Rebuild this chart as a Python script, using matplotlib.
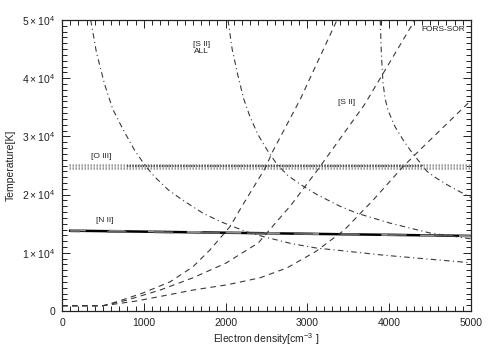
import matplotlib
matplotlib.use("Agg")
import matplotlib.pyplot as plt
from matplotlib.ticker import MultipleLocator, FixedLocator

plt.rcParams['font.family'] = ['Liberation Sans', 'DejaVu Sans']
plt.rcParams['mathtext.default'] = 'regular'

# ---- data (electron density [cm^-3], temperature [1e4 K]) ----
# [S II] ALL dash-dot curves
sall1_x = [351, 420, 520, 620, 746, 880, 1015, 1137, 1300, 1480, 1724, 1931, 2054, 2262, 2457, 2800, 3117, 3398, 3924, 4988]
sall1_y = [5.0, 4.45, 3.90, 3.47, 3.12, 2.78, 2.50, 2.30, 2.08, 1.90, 1.68, 1.54, 1.47, 1.36, 1.28, 1.16, 1.08, 1.04, 0.96, 0.83]
sall2_x = [2030, 2080, 2150, 2220, 2300, 2400, 2506, 2628, 2760, 2910, 3117, 3398, 3606, 4010, 4499, 5000]
sall2_y = [5.0, 4.5, 4.05, 3.65, 3.33, 3.02, 2.77, 2.52, 2.33, 2.18, 2.00, 1.80, 1.68, 1.51, 1.34, 1.24]
sall3_x = [3890, 3905, 3924, 3950, 3985, 4070, 4170, 4254, 4377, 4462, 4580, 4707, 4850, 5000]
sall3_y = [5.0, 4.4, 3.92, 3.65, 3.45, 3.17, 2.94, 2.77, 2.55, 2.40, 2.28, 2.17, 2.06, 1.95]
# [S II] dashed curves
sii1_x = [0, 500, 673, 990, 1320, 1601, 1809, 2054, 2200, 2482, 2579, 2910, 3362]
sii1_y = [0.09, 0.09, 0.16, 0.31, 0.50, 0.76, 1.05, 1.45, 1.80, 2.45, 2.75, 3.63, 5.0]
sii2_x = [0, 500, 800, 1200, 1600, 2000, 2400, 2800, 3154, 3700, 4315]
sii2_y = [0.09, 0.09, 0.19, 0.36, 0.57, 0.82, 1.17, 1.82, 2.48, 3.55, 5.0]
sii3_x = [0, 500, 900, 1200, 1601, 2017, 2420, 2750, 3100, 3450, 3800, 4169, 4377, 5000]
sii3_y = [0.09, 0.09, 0.17, 0.25, 0.36, 0.45, 0.57, 0.74, 1.02, 1.39, 1.90, 2.48, 2.77, 3.62]
# [N II] horizontal lines
nii_x = [100, 5000]
nii_y = [1.38, 1.29]
nii2_y = [1.39, 1.285]
nii3_y = [1.37, 1.295]
# [O III] band
oiii_x = [90, 5000]
oiii_top = [2.515, 2.515]
oiii_bot = [2.455, 2.455]
oiii_mid_x = [790, 4400]
oiii_mid = [2.485, 2.485]

xticks = [0, 1000, 2000, 3000, 4000, 5000]
yticks = [0, 1, 2, 3, 4, 5]
ytick_labels = ['0', r'$1\times10^{4}$', r'$2\times10^{4}$', r'$3\times10^{4}$',
                r'$4\times10^{4}$', r'$5\times10^{4}$']

fig = plt.figure(figsize=(4.91, 3.51), dpi=100)
ax = fig.add_axes([62/491, 1-311/351, (471-62)/491, (311-20)/351])

dc = '#3a3a3a'
# O III band
ax.plot(oiii_x, oiii_top, color='#9a9a9a', lw=1.8, ls=(0, (0.6, 0.6)))
ax.plot(oiii_x, oiii_bot, color='#9a9a9a', lw=1.8, ls=(0, (0.6, 0.6)))
ax.plot(oiii_mid_x, oiii_mid, color='#555555', lw=1.6, ls=(0, (0.6, 0.6)))

# N II
ax.plot(nii_x, nii_y, color='black', lw=1.8)
ax.plot(nii_x, nii2_y, color='#909090', lw=1.4, ls=(0, (8, 12)))
ax.plot(nii_x, nii3_y, color='#606060', lw=1.4, ls=(5, (10, 14)))

# dash-dot [S II] ALL
for xs, ys in [(sall1_x, sall1_y), (sall2_x, sall2_y), (sall3_x, sall3_y)]:
    ax.plot(xs, ys, color=dc, lw=0.8, ls=(0, (5, 3, 1, 3)))
# dashed [S II]
for xs, ys in [(sii1_x, sii1_y), (sii2_x, sii2_y), (sii3_x, sii3_y)]:
    ax.plot(xs, ys, color=dc, lw=0.8, ls=(0, (5, 4)))

ax.set_xlim(0, 5000)
ax.set_ylim(0, 5)
ax.xaxis.set_major_locator(FixedLocator(xticks))
ax.yaxis.set_major_locator(FixedLocator(yticks))
ax.set_yticklabels(ytick_labels)
ax.xaxis.set_minor_locator(MultipleLocator(100))
ax.yaxis.set_minor_locator(MultipleLocator(0.1))
ax.tick_params(which='both', direction='in', top=True, right=True,
               labelsize=7.5, colors='#222222', width=0.7, pad=5)
ax.tick_params(which='major', length=6)
ax.tick_params(which='minor', length=3.5)
for s in ax.spines.values():
    s.set_linewidth(0.9)
    s.set_color('#222222')

ax.set_xlabel(r'Electron density[cm$^{-3}$ ]', fontsize=7.5, color='#222222', labelpad=2)
ax.set_ylabel('Temperature[K]', fontsize=7.5, color='#222222', labelpad=4)

tc = '#222222'
ax.text(477, 2.66, '[O III]', fontsize=6, ha='center', va='center', color=tc)
ax.text(526, 1.56, '[N II]', fontsize=6, ha='center', va='center', color=tc)
ax.text(1710, 4.52, '[S II]\nALL', fontsize=6, ha='center', va='center', color=tc,
        linespacing=1.0)
ax.text(3484, 3.59, '[S II]', fontsize=6, ha='center', va='center', color=tc)
ax.text(4930, 4.84, 'FORS-SOR', fontsize=6, ha='right', va='center', color=tc)

fig.savefig('out.png', dpi=100)
